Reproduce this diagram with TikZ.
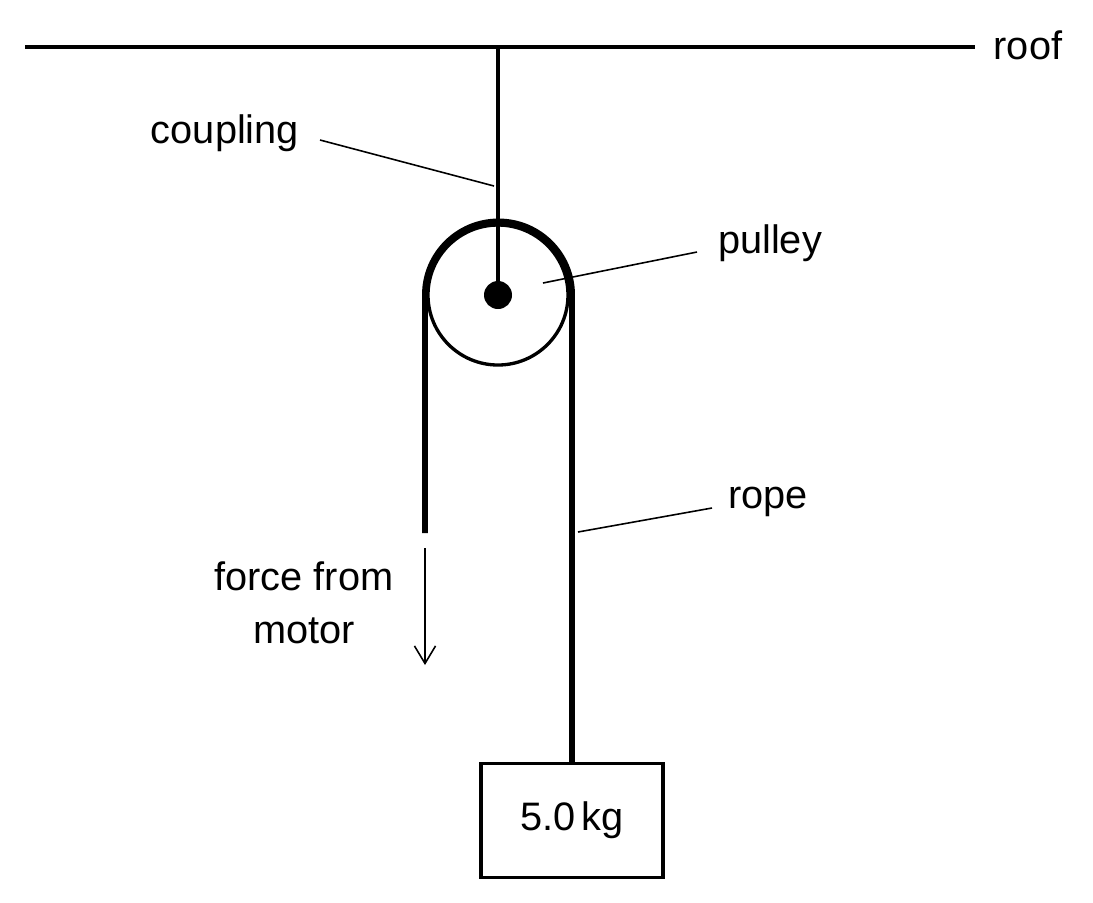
\documentclass[tikz,border=0pt]{standalone}
\usepackage{fontspec}
\setmainfont{Liberation Sans}
\usetikzlibrary{arrows.meta}
\begin{document}
\begin{tikzpicture}[x=0.01cm,y=-0.01cm,
  lbl/.style={font=\fontsize{11.3}{13}\selectfont,inner sep=0pt},
  thin line/.style={line width=0.45pt},
  mid/.style={line width=0.95pt},
  rope/.style={line width=1.7pt}]
\useasboundingbox (0,0) rectangle (1093,902);
\coordinate (rl) at (25,47);
\coordinate (rr) at (975,47);
\coordinate (c) at (498,295);
\draw[mid] (rl) -- (rr);
\node[lbl,anchor=west] (roof) at (993,45) {roof};
\draw[mid] (498,47) -- (c);
\draw[mid] (c) circle (70);
\fill (c) circle (14);
\coordinate (lend) at (425,533);
\coordinate (rend) at (572,762);
\draw[rope] (lend) -- (425,295) arc[start angle=180,end angle=360,radius=73.5] -- (rend);
\node[draw,mid,minimum width=182*0.01cm,minimum height=114*0.01cm,anchor=north,font=\fontsize{11.3}{13}\selectfont] (box) at (572,762) {5.0\,kg};
\coordinate (a1) at (425,548);
\coordinate (a2) at (425,665);
\draw[thin line,-{Straight Barb[length=5pt,width=6pt]}] (a1) -- (a2);
\node[lbl,align=center] (force) at (304,603) {force from\\[2pt]motor};
\node[lbl] (coup) at (225,133) {coupling};
\coordinate (cp1) at (320,140); \coordinate (cp2) at (494,186);
\draw[thin line] (cp1) -- (cp2);
\node[lbl] (pul) at (770,243) {pulley};
\coordinate (p1) at (543,283); \coordinate (p2) at (697,252);
\draw[thin line] (p1) -- (p2);
\node[lbl] (rope) at (768,502) {rope};
\coordinate (r1) at (578,532); \coordinate (r2) at (712,508);
\draw[thin line] (r1) -- (r2);
\end{tikzpicture}
\end{document}
